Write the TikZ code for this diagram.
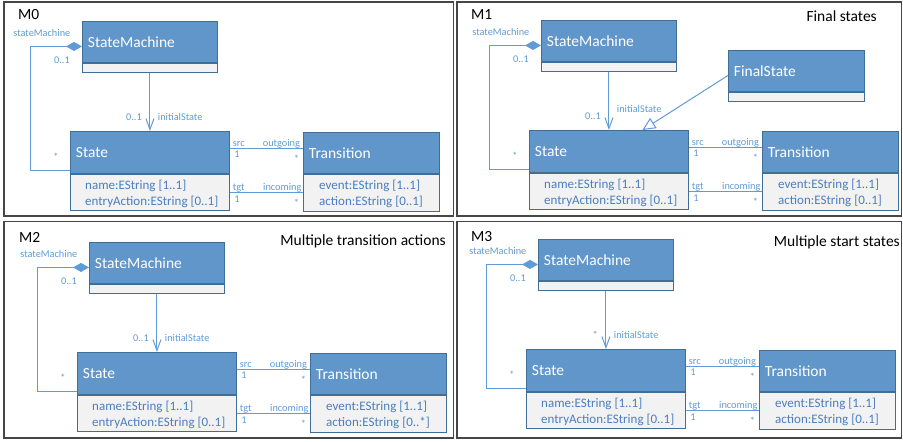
\documentclass[tikz,border=0pt]{standalone}
\usepackage{fontspec}
\setmainfont{Carlito}
\usetikzlibrary{arrows.meta}
\definecolor{umlhead}{RGB}{96,150,202}
\definecolor{umledge}{RGB}{65,110,150}
\definecolor{umlbody}{RGB}{242,242,242}
\definecolor{umltext}{RGB}{75,126,190}
\definecolor{umlline}{RGB}{95,155,212}
\definecolor{framegray}{RGB}{70,70,70}

\begin{document}
\begin{tikzpicture}[x=1pt, y=-1pt,
  classhead/.style={draw=umledge, fill=umlhead, text=white, line width=0.9pt, anchor=north west, align=left, inner xsep=5.5pt, inner ysep=0pt, font=\fontsize{15.5}{18}\selectfont},
  classbody/.style={draw=umledge, fill=umlbody, line width=0.9pt, anchor=north west, inner sep=0pt},
  attr/.style={text=umltext, anchor=north west, align=left, inner sep=0pt, font=\fontsize{13}{16}\selectfont},
  lbl/.style={text=umlline, inner sep=0pt, font=\fontsize{10.3}{12}\selectfont},
  assoc/.style={draw=umlline, line width=1pt},
  panelframe/.style={draw=framegray, line width=1.3pt},
  paneltitle/.style={inner sep=0pt, font=\fontsize{15.5}{18}\selectfont}]
\useasboundingbox (0,0) rectangle (903,442);

% Panel frames and titles
\draw[panelframe] (4,2) rectangle (453.5,216);
\draw[panelframe] (457,2) rectangle (901.5,216);
\draw[panelframe] (4,221.5) rectangle (453.5,438);
\draw[panelframe] (457,221.5) rectangle (901.5,438);
\node[paneltitle, anchor=base west] (m0) at (18,19.3) {M0};
\node[paneltitle, anchor=base west] (m1) at (471,19.3) {M1};
\node[paneltitle, anchor=base west] (m2) at (19,242.5) {M2};
\node[paneltitle, anchor=base west] (m3) at (471,241.5) {M3};
\node[paneltitle, anchor=base east] (t1) at (877,21) {Final states};
\node[paneltitle, anchor=base east] (t2) at (446,245.5) {Multiple transition actions};
\node[paneltitle, anchor=base east] (t3) at (900,246) {Multiple start states};

% Same state machine model in every panel
\foreach \sx/\sy/\mname/\initm/\iny/\actm in {82/21/M0/{0..1}/99.7/{0..1}, 541/20/M1/{0..1}/92.7/{0..1}, 89/242/M2/{0..1}/99.7/{0..*}, 538/239/M3/{*}/99.7/{0..1}}{
\begin{scope}[shift={(\sx,\sy)}]
\node[classhead, text width=124pt, minimum height=41pt] (sm\mname) at (0,0) {StateMachine};
\node[classbody, minimum width=135pt, minimum height=9pt] (smb\mname) at (sm\mname.south west) {};
\node[classhead, text width=148pt, minimum height=42pt] (st\mname) at (-12,110) {State};
\node[classbody, minimum width=159pt, minimum height=36pt] (stb\mname) at (st\mname.south west) {};
\node[classhead, text width=125pt, minimum height=41pt] (tr\mname) at (221,111) {Transition};
\node[classbody, minimum width=136pt, minimum height=37pt] (trb\mname) at (tr\mname.south west) {};
\node[attr] (sta\mname) at (3,159.2) {name:EString [1..1]\\entryAction:EString [0..1]};
\node[attr] (tra\mname) at (237,159.2) {event:EString [1..1]\\action:EString [\actm]};

% composition back to the machine
\draw[assoc, {Diamond[length=16pt,width=9pt]}-] ([yshift=-4.5pt]sm\mname.west) -- ++(-52,0) |- ([yshift=-18pt]st\mname.west);
\node[lbl, anchor=base east] at (-11.5,15.7) {stateMachine};
\node[lbl, anchor=base east] at (-12,42.3) {0..1};
\node[lbl, anchor=base east] at (-23.3,139.5) {*};

% initial state
\draw[assoc, -{Straight Barb[length=11pt,width=8pt]}] (smb\mname.south) -- (st\mname.north);
\node[lbl, anchor=base east] at (60,99.7) {\initm};
\node[lbl, anchor=base west] at (75.7,\iny) {initialState};

% src and tgt ends
\draw[assoc] ([yshift=4pt]st\mname.east) coordinate (src\mname) -- (src\mname -| tr\mname.west)
  node[lbl, pos=0, anchor=base west, xshift=2.5pt, yshift=2pt] {src}
  node[lbl, pos=0, anchor=base west, xshift=4pt, yshift=-9pt] {1}
  node[lbl, pos=1, anchor=base east, xshift=-2.5pt, yshift=2pt] {outgoing}
  node[lbl, pos=1, anchor=base east, xshift=-3.5pt, yshift=-14pt] {*};
\draw[assoc] (stb\mname.east) -- (stb\mname.east -| trb\mname.west)
  node[lbl, pos=0, anchor=base west, xshift=2.5pt, yshift=2pt] {tgt}
  node[lbl, pos=0, anchor=base west, xshift=4pt, yshift=-10pt] {1}
  node[lbl, pos=1, anchor=base east, xshift=-1pt, yshift=2pt] {incoming}
  node[lbl, pos=1, anchor=base east, xshift=-3.5pt, yshift=-14pt] {*};
\end{scope}
}

% Final states only in M1
\node[classhead, text width=125pt, minimum height=41pt] (fsM1) at (728,50) {FinalState};
\node[classbody, minimum width=136pt, minimum height=9pt] (fsbM1) at (fsM1.south west) {};
\draw[assoc, -{Triangle[open, fill=white, length=13pt, width=12pt]}] ([yshift=-4.5pt]fsM1.west) -- ([xshift=33.5pt]stM1.north);
\end{tikzpicture}
\end{document}
